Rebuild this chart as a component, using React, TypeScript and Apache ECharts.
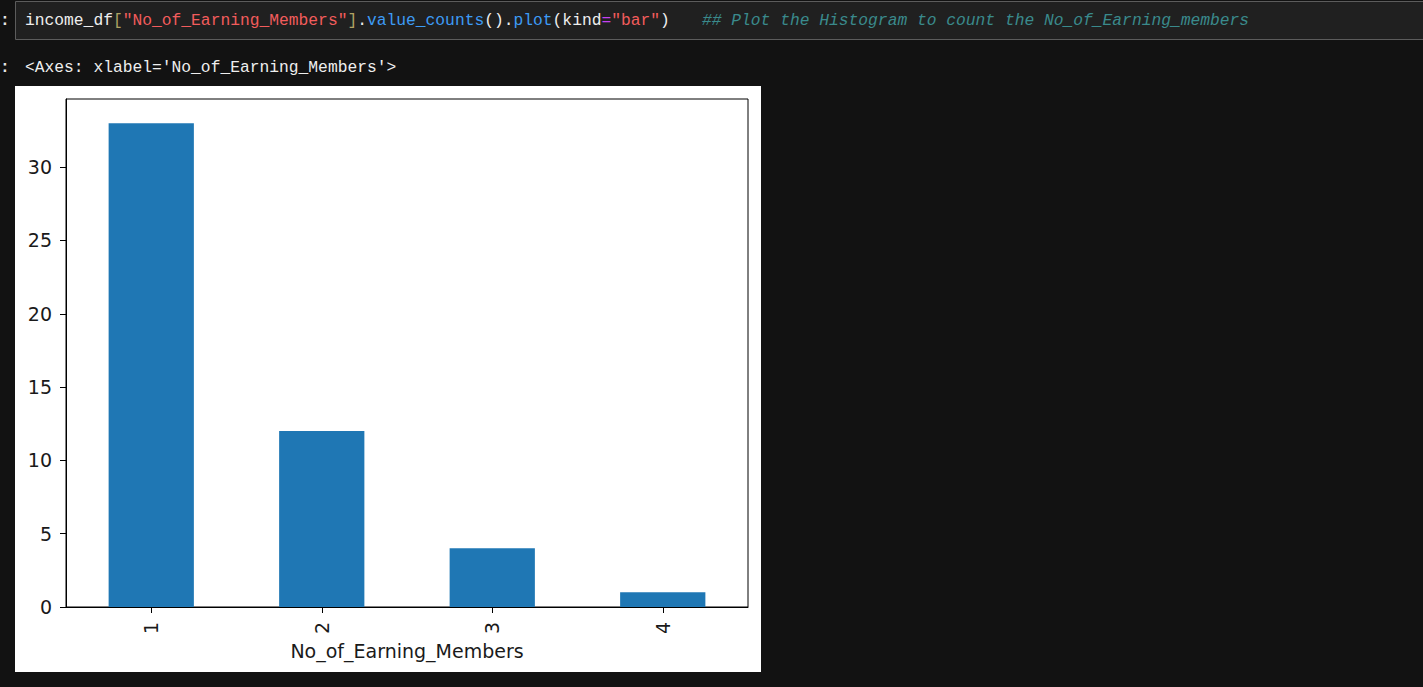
import React, { useEffect, useRef } from "react";
import * as echarts from "echarts";

const categories = ["1", "2", "3", "4"];
const counts = [33, 12, 4, 1];
const yTicks = [0, 5, 10, 15, 20, 25, 30];
const yMax = 34.65;
const xLabel = "No_of_Earning_Members";

export default function App() {
  const ref = useRef<HTMLDivElement>(null);
  useEffect(() => {
    document.body.style.margin = "0";
    const chart = echarts.init(ref.current!, null, { renderer: "svg" });
    const mono = "'Liberation Mono', 'DejaVu Sans Mono', monospace";
    const sans = "'DejaVu Sans', sans-serif";
    const codeFont = `16.3px ${mono}`;
    chart.setOption({
      animation: false,
      backgroundColor: "#121212",
      graphic: [
        {
          type: "rect",
          z: -10,
          shape: { x: 15.5, y: 1.5, width: 1420, height: 38 },
          style: { fill: "#202020", stroke: "#5c5c5c", lineWidth: 1 },
        },
        {
          type: "text",
          x: 0,
          y: 20,
          style: { text: ":", fill: "#e6e6e6", font: `bold ${codeFont}`, verticalAlign: "middle" },
        },
        {
          type: "text",
          x: 25,
          y: 20,
          style: {
            text:
              "{w|income_df}{b|[}{s|\"No_of_Earning_Members\"}{b|]}{w|.}{f|value_counts}{w|().}{f|plot}{w|(kind}{e|=}{s|\"bar\"}{w|)}",
            font: codeFont,
            verticalAlign: "middle",
            rich: {
              w: { fill: "#eeeeee", font: codeFont },
              b: { fill: "#b0a263", font: codeFont },
              s: { fill: "#f25c5c", font: codeFont },
              f: { fill: "#3d9bf5", font: codeFont },
              e: { fill: "#c740f0", font: codeFont },
            },
          },
        },
        {
          type: "text",
          x: 702,
          y: 20,
          style: {
            text: "## Plot the Histogram to count the No_of_Earning_members",
            fill: "#3a8a8c",
            font: `italic ${codeFont}`,
            verticalAlign: "middle",
          },
        },
        {
          type: "text",
          x: 0,
          y: 67,
          style: { text: ":", fill: "#e6e6e6", font: `bold ${codeFont}`, verticalAlign: "middle" },
        },
        {
          type: "text",
          x: 25,
          y: 67,
          style: {
            text: "<Axes: xlabel='No_of_Earning_Members'>",
            fill: "#eeeeee",
            font: codeFont,
            verticalAlign: "middle",
          },
        },
        {
          type: "rect",
          z: -10,
          shape: { x: 15, y: 86, width: 746, height: 586 },
          style: { fill: "#ffffff" },
        },
      ],
      grid: {
        left: 66,
        top: 99,
        width: 682,
        height: 508,
        show: true,
        borderColor: "#000000",
        borderWidth: 1,
        backgroundColor: "transparent",
        containLabel: false,
      },
      xAxis: {
        type: "category",
        data: categories,
        axisLine: { show: true, lineStyle: { color: "#000000", width: 1 } },
        axisTick: { show: true, alignWithLabel: true, length: 6, lineStyle: { color: "#000000" } },
        axisLabel: { rotate: 90, fontSize: 19, fontFamily: sans, color: "#1a1a1a", margin: 15 },
        splitLine: { show: false },
        name: xLabel,
        nameLocation: "middle",
        nameGap: 33,
        nameTextStyle: { fontSize: 19, fontFamily: sans, color: "#1a1a1a" },
      },
      yAxis: {
        type: "value",
        min: 0,
        max: yMax,
        interval: 5,
        axisLine: { show: true, lineStyle: { color: "#000000", width: 1 } },
        axisTick: { show: true, length: 6, lineStyle: { color: "#000000" }, customValues: yTicks },
        axisLabel: {
          fontSize: 19,
          fontFamily: sans,
          color: "#1a1a1a",
          margin: 14,
          customValues: yTicks,
        },
        splitLine: { show: false },
      },
      series: [
        {
          type: "bar",
          data: counts,
          barWidth: "50%",
          itemStyle: { color: "#1f77b4" },
        },
      ],
    });
    return () => chart.dispose();
  }, []);
  return <div ref={ref} style={{ position: "fixed", left: 0, top: 0, width: 1423, height: 687 }} />;
}
